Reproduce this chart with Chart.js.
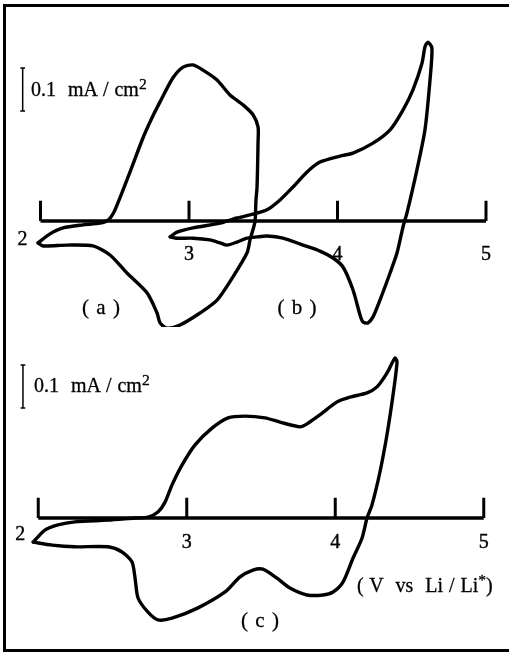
<!DOCTYPE html>
<html>
<head>
<meta charset="utf-8">
<script src="https://cdn.jsdelivr.net/npm/chart.js@4/dist/chart.umd.min.js"></script>
<style>
html,body{margin:0;padding:0;background:#fff;}
#wrap{position:relative;width:509px;height:654px;overflow:hidden;background:#fff;font-family:"Liberation Serif","Times New Roman",serif;color:#000;}
canvas{position:absolute;left:0;}
#frame{position:absolute;left:3px;top:4px;width:540px;height:642px;border-left:3px solid #000;border-top:3px solid #000;border-bottom:3px solid #000;}
.lbl{position:absolute;white-space:pre;line-height:1;-webkit-text-stroke:0.3px #000;}
.sup{position:relative;top:-0.42em;font-size:0.78em;}
</style>
</head>
<body>
<div id="wrap">
  <div id="frame"></div>
  <canvas id="top" width="509" height="327" style="top:0;width:509px;height:327px"></canvas>
  <canvas id="bot" width="509" height="327" style="top:327px;width:509px;height:327px"></canvas>
  <div class="lbl" style="left:31px;top:79px;font-size:20px;word-spacing:1px">0.1  mA / cm<span class="sup">2</span></div>
  <div class="lbl" style="left:34px;top:375px;font-size:20px;word-spacing:1px">0.1  mA / cm<span class="sup">2</span></div>
  <div class="lbl" style="left:51px;width:100px;text-align:center;top:297px;font-size:21px;word-spacing:2px">( a )</div>
  <div class="lbl" style="left:247px;width:100px;text-align:center;top:297px;font-size:21px;word-spacing:2px">( b )</div>
  <div class="lbl" style="left:210px;width:100px;text-align:center;top:610px;font-size:21px;word-spacing:2px">( c )</div>
  <div class="lbl" style="left:357px;top:575px;font-size:20px;word-spacing:1px">( V  vs  Li / Li<span class="sup">*</span>)</div>
</div>
<script>
// ---- data (potential in V vs Li/Li+, current density in mA/cm2) ----
const TICK_VALUES = [2, 3, 4, 5];
const TICK_LABELS = ['2', '3', '4', '5'];
const SCALE_BAR_MA = 0.1;

// curve (a)
const A_V = [1.983, 2.064, 2.152, 2.286, 2.401, 2.455, 2.495, 2.535, 2.603, 2.690, 2.751, 2.805, 2.892, 2.960, 3.027, 3.094, 3.189, 3.276, 3.364, 3.431, 3.465, 3.465, 3.458, 3.451, 3.444, 3.411, 3.391, 3.296, 3.189, 3.074, 2.939, 2.852, 2.805, 2.785, 2.717, 2.582, 2.468, 2.354, 2.178, 2.017, 1.983];
const A_I = [-0.051, -0.030, -0.016, -0.009, -0.005, 0.002, 0.021, 0.054, 0.114, 0.193, 0.240, 0.277, 0.333, 0.358, 0.363, 0.351, 0.328, 0.293, 0.270, 0.247, 0.219, 0.184, 0.077, 0.049, -0.002, -0.044, -0.074, -0.130, -0.184, -0.214, -0.242, -0.249, -0.237, -0.214, -0.167, -0.121, -0.079, -0.058, -0.056, -0.058, -0.051];

// curve (b)
const B_V = [2.872, 2.919, 3.027, 3.209, 3.323, 3.431, 3.525, 3.613, 3.700, 3.795, 3.882, 4.017, 4.104, 4.239, 4.354, 4.441, 4.508, 4.569, 4.589, 4.609, 4.636, 4.623, 4.589, 4.535, 4.468, 4.441, 4.401, 4.354, 4.286, 4.239, 4.205, 4.172, 4.152, 4.104, 4.037, 3.970, 3.882, 3.768, 3.633, 3.525, 3.458, 3.391, 3.323, 3.256, 3.209, 3.141, 3.027, 2.919, 2.872];
const B_I = [-0.037, -0.026, -0.016, -0.005, 0.007, 0.016, 0.026, 0.049, 0.079, 0.114, 0.137, 0.151, 0.158, 0.181, 0.212, 0.258, 0.305, 0.367, 0.405, 0.416, 0.402, 0.328, 0.212, 0.119, 0.019, -0.014, -0.074, -0.121, -0.184, -0.223, -0.237, -0.235, -0.219, -0.160, -0.107, -0.086, -0.070, -0.056, -0.040, -0.035, -0.037, -0.040, -0.049, -0.056, -0.051, -0.044, -0.040, -0.040, -0.037];

// curve (c)
const C_V = [1.965, 2.045, 2.133, 2.247, 2.470, 2.652, 2.739, 2.806, 2.854, 2.901, 2.968, 3.056, 3.170, 3.278, 3.392, 3.527, 3.628, 3.763, 3.810, 3.897, 4.012, 4.099, 4.214, 4.281, 4.348, 4.402, 4.416, 4.389, 4.348, 4.301, 4.247, 4.214, 4.180, 4.120, 4.052, 3.985, 3.918, 3.810, 3.695, 3.608, 3.513, 3.446, 3.359, 3.258, 3.076, 2.901, 2.806, 2.739, 2.672, 2.652, 2.631, 2.564, 2.470, 2.247, 2.093, 1.965];
const C_I = [-0.056, -0.028, -0.016, -0.009, -0.005, 0.000, 0.002, 0.014, 0.037, 0.077, 0.123, 0.170, 0.209, 0.233, 0.237, 0.233, 0.223, 0.212, 0.219, 0.240, 0.270, 0.281, 0.291, 0.305, 0.337, 0.372, 0.363, 0.286, 0.193, 0.107, 0.030, 0.000, -0.047, -0.093, -0.149, -0.172, -0.179, -0.179, -0.163, -0.140, -0.119, -0.121, -0.137, -0.172, -0.209, -0.233, -0.237, -0.219, -0.186, -0.140, -0.102, -0.079, -0.067, -0.067, -0.063, -0.056];

// ---- helpers ----
const pts = (xs, ys) => xs.map((x, i) => ({x: x, y: ys[i]}));
const TICK_LEN = 0.047;

function axisDatasets(sbV, sbBase) {
  const tickPts = [];
  TICK_VALUES.forEach(v => { tickPts.push({x: v, y: 0}, {x: v, y: TICK_LEN}, {x: v, y: null}); });
  const cap = 0.016;
  return [
    {data: [{x: TICK_VALUES[0], y: 0}, {x: TICK_VALUES[TICK_VALUES.length - 1], y: 0}], borderWidth: 3.5, borderCapStyle: 'butt'},
    {data: tickPts, borderWidth: 3, borderCapStyle: 'butt'},
    {data: [{x: sbV, y: sbBase}, {x: sbV, y: sbBase + SCALE_BAR_MA}, {x: sbV, y: null},
            {x: sbV - cap, y: sbBase}, {x: sbV + cap, y: sbBase}, {x: sbV, y: null},
            {x: sbV - cap, y: sbBase + SCALE_BAR_MA}, {x: sbV + cap, y: sbBase + SCALE_BAR_MA}],
     borderWidth: 1.5, borderCapStyle: 'butt'}
  ];
}

const tickLabelPlugin = {
  id: 'tickLabels',
  afterDatasetsDraw(chart, args, opts) {
    const ctx = chart.ctx, xs = chart.scales.x, ys = chart.scales.y;
    const y0 = ys.getPixelForValue(0);
    ctx.save();
    ctx.fillStyle = '#000';
    ctx.strokeStyle = '#000';
    ctx.lineWidth = 0.4;
    ctx.font = '20px "Liberation Serif", "Times New Roman", serif';
    ctx.textAlign = 'center';
    ctx.textBaseline = 'alphabetic';
    TICK_VALUES.forEach((v, i) => {
      let px = xs.getPixelForValue(v), py = y0 + opts.dy;
      if (i === 0) { px += opts.firstDx; py = y0 + opts.firstDy; }
      ctx.fillText(TICK_LABELS[i], px, py);
      ctx.strokeText(TICK_LABELS[i], px, py);
    });
    ctx.restore();
  }
};

function makeChart(id, curves, range, sb, lab) {
  const curveSets = curves.map(c => ({data: c, borderWidth: 3.4, tension: 0.25}));
  new Chart(document.getElementById(id), {
    type: 'scatter',
    data: {datasets: curveSets.concat(axisDatasets(sb.v, sb.base))},
    options: {
      responsive: false,
      animation: false,
      devicePixelRatio: 1,
      layout: {padding: 0},
      showLine: true,
      spanGaps: false,
      elements: {
        point: {radius: 0, hoverRadius: 0},
        line: {borderColor: '#000', borderJoinStyle: 'round', borderCapStyle: 'round', fill: false}
      },
      plugins: {legend: {display: false}, tooltip: {enabled: false}, tickLabels: lab},
      events: [],
      scales: {
        x: {type: 'linear', display: false, min: range.xmin, max: range.xmax},
        y: {type: 'linear', display: false, min: range.ymin, max: range.ymax}
      }
    },
    plugins: [tickLabelPlugin]
  });
}

makeChart('top', [pts(A_V, A_I), pts(B_V, B_I)],
  {xmin: 1.7273, xmax: 5.1549, ymin: -0.24651, ymax: 0.51395},
  {v: 1.880, base: 0.256},
  {dy: 39, firstDx: -18, firstDy: 24});

makeChart('bot', [pts(C_V, C_I)],
  {xmin: 1.74242, xmax: 5.17003, ymin: -0.31628, ymax: 0.44419},
  {v: 1.897, base: 0.256},
  {dy: 30, firstDx: -18, firstDy: 22});
</script>
</body>
</html>
